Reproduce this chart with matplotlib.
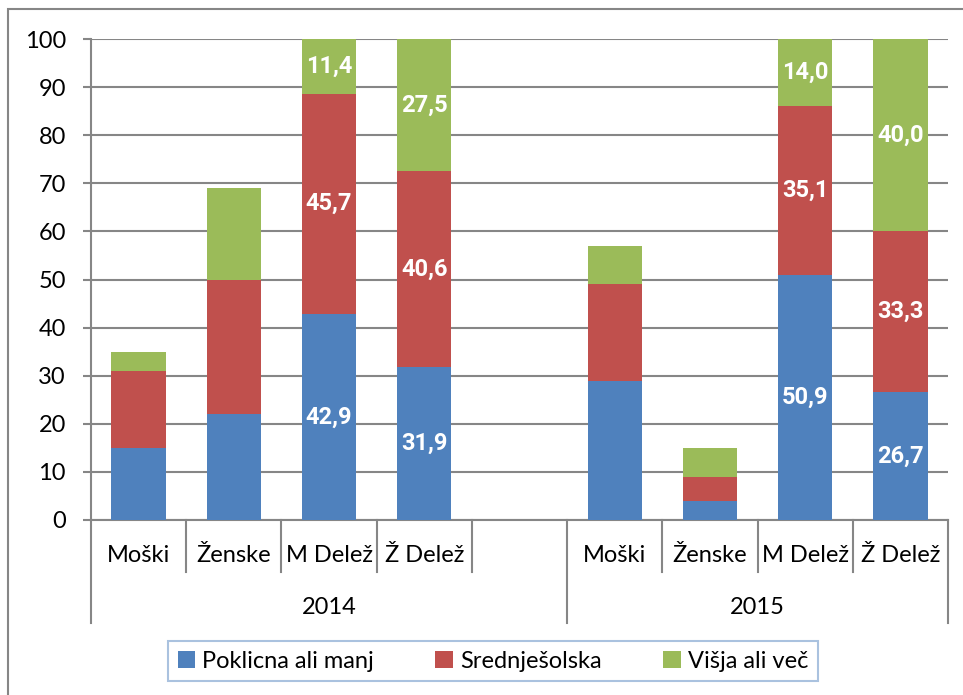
import matplotlib.pyplot as plt
from matplotlib.patches import Rectangle, Patch
from matplotlib.transforms import blended_transform_factory

plt.rcParams['font.family'] = ['Lato', 'DejaVu Sans']

years = ['2014', '2015']
slots_per_year = [5, 4]          # 2014 has one empty slot at the end
categories = ['Moški', 'Ženske', 'M Delež', 'Ž Delež']
labelled = ['M Delež', 'Ž Delež']

poklicna = {'2014': [15, 22, 42.9, 31.9], '2015': [29, 4, 50.9, 26.7]}
srednja = {'2014': [16, 28, 45.7, 40.6], '2015': [20, 5, 35.1, 33.3]}
visja = {'2014': [4, 19, 11.4, 27.5], '2015': [8, 6, 14.0, 40.0]}

series = [('Poklicna ali manj', poklicna, '#4f81bd'),
          ('Srednješolska', srednja, '#c0504d'),
          ('Višja ali več', visja, '#9bbb59')]

grid_c = '#868686'
fs = 17

fig = plt.figure(figsize=(9.63, 6.95), dpi=100)
ax = fig.add_axes([91/963, 1-520/695, (948-91)/963, 481/695])

start = 0
for yr, n in zip(years, slots_per_year):
    xs = [start + i for i in range(len(categories))]
    bottom = [0]*len(categories)
    for name, data, col in series:
        vals = data[yr]
        ax.bar(xs, vals, 0.57, bottom=bottom, color=col, zorder=3)
        for x, b, v, c in zip(xs, bottom, vals, categories):
            if c in labelled:
                ax.text(x, b + v/2, f'{v:.1f}'.replace('.', ','), color='white',
                        fontsize=17, fontweight='bold', family=['Roboto', 'DejaVu Sans'],
                        ha='center', va='center', zorder=4)
        bottom = [b + v for b, v in zip(bottom, vals)]
    start += n

total = sum(slots_per_year)
ax.set_xlim(-0.5, total - 0.5)
ax.set_ylim(0, 100)
ax.set_yticks(range(0, 101, 10))
ax.yaxis.grid(True, color=grid_c, lw=1.5, zorder=0)
ax.set_xticks([])
for s in ['top', 'right']:
    ax.spines[s].set_visible(False)
for s in ['left', 'bottom']:
    ax.spines[s].set_color(grid_c)
    ax.spines[s].set_linewidth(1.5)
ax.tick_params(axis='y', length=6, width=1.5, color=grid_c, pad=12, labelsize=fs)

# two-level category axis
tr = blended_transform_factory(ax.transData, ax.transAxes)
lvl1 = -52/481
lvl2 = -103/481
start = 0
for yr, n in zip(years, slots_per_year):
    ax.plot([start - 0.5]*2, [0, lvl2], color=grid_c, lw=1.5, transform=tr, clip_on=False)
    for i, c in enumerate(categories):
        x = start + i
        ax.text(x, -35/481, c, transform=tr, ha='center', va='center', fontsize=fs)
    for i in range(1, n):
        ax.plot([start + i - 0.5]*2, [0, lvl1], color=grid_c, lw=1.5, transform=tr, clip_on=False)
    ax.text(start + (n - 1)/2, -87/481, yr, transform=tr, ha='center', va='center', fontsize=fs)
    start += n
ax.plot([total - 0.5]*2, [0, lvl2], color=grid_c, lw=1.5, transform=tr, clip_on=False)

# outer chart border
fig.add_artist(Rectangle((8/963, -0.1), 1.2, 1.1 - 9.5/695, fill=False,
                         edgecolor=grid_c, lw=1.5, transform=fig.transFigure))

handles = [Patch(facecolor=c, label=n) for n, _, c in series]
leg = fig.legend(handles=handles, loc='center', bbox_to_anchor=(493/963, 1-661/695),
                 ncol=3, fontsize=fs, frameon=True, fancybox=False,
                 handlelength=0.75, handleheight=0.75, handletextpad=0.3,
                 columnspacing=2.6, borderpad=0.4, borderaxespad=0)
leg.get_frame().set_edgecolor('#95b3d7')
leg.get_frame().set_linewidth(1.5)

fig.savefig('out.png', dpi=100)
